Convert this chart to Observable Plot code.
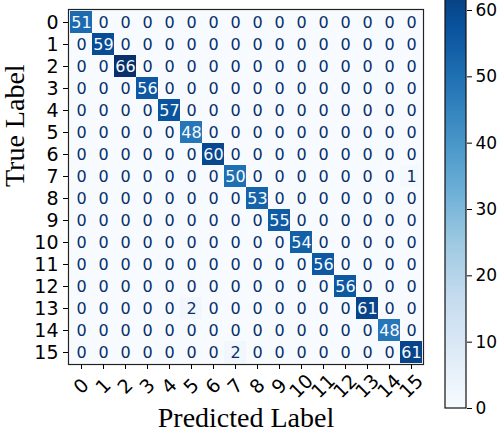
<!DOCTYPE html>
<html>
<head>
<meta charset="utf-8">
<script src="https://cdn.jsdelivr.net/npm/d3@7"></script>
<script src="https://cdn.jsdelivr.net/npm/@observablehq/plot@0.6"></script>
<style>
  html, body { margin: 0; padding: 0; background: #fff; }
  #wrap { position: relative; width: 499px; height: 432px; overflow: hidden; background: #fff; }
  #wrap svg { position: absolute; top: 0; }
</style>
</head>
<body>
<div id="wrap"></div>
<script>
// ---- data ----
const labels = ["0","1","2","3","4","5","6","7","8","9","10","11","12","13","14","15"];
const diagonal = [51, 59, 66, 56, 57, 48, 60, 50, 53, 55, 54, 56, 56, 61, 48, 61];
// off-diagonal non-zero entries: [true label, predicted label, count]
const offDiagonal = [[7, 15, 1], [13, 5, 2], [15, 7, 2]];
const colorbarTicks = [0, 10, 20, 30, 40, 50, 60];
const blues9 = ["#f7fbff","#deebf7","#c6dbef","#9ecae1","#6baed6","#4292c6","#2171b5","#08519c","#08306b"];

// ---- build table ----
const cells = [];
for (let r = 0; r < labels.length; r++) {
  for (let c = 0; c < labels.length; c++) {
    let v = r === c ? diagonal[r] : 0;
    for (const [tr, pc, n] of offDiagonal) if (tr === r && pc === c) v = n;
    cells.push({trueL: labels[r], pred: labels[c], v});
  }
}
const vmin = d3.min(cells, d => d.v), vmax = d3.max(cells, d => d.v);
const cmap = d3.scaleLinear()
  .domain(blues9.map((_, i) => vmin + (vmax - vmin) * i / (blues9.length - 1)))
  .range(blues9).interpolate(d3.interpolateRgb).clamp(true);
const thresh = (vmin + vmax) / 2;

const serif = "'Liberation Serif', 'Times New Roman', serif";

const heat = Plot.plot({
  width: 430, height: 432,
  marginLeft: 68, marginRight: 7, marginTop: 9, marginBottom: 68,
  style: {fontFamily: "'DejaVu Sans', sans-serif", background: "transparent", color: "black"},
  x: {type: "band", domain: labels, padding: 0, axis: null},
  y: {type: "band", domain: labels, padding: 0, axis: null},
  marks: [
    Plot.cell(cells, {x: "pred", y: "trueL", fill: d => cmap(d.v), inset: 0, shapeRendering: "crispEdges"}),
    Plot.text(cells, {x: "pred", y: "trueL", text: d => String(d.v),
      fill: d => d.v < thresh ? blues9[8] : blues9[0], fontSize: 16}),
    Plot.frame({stroke: "#222", strokeWidth: 1.2}),
    Plot.axisY({tickSize: 5, tickPadding: 5, fontSize: 19, label: null}),
    Plot.axisX({tickSize: 5, tickPadding: 17, tickRotate: -45, textAnchor: "middle",
      lineAnchor: "middle", fontSize: 19, label: null}),
    Plot.text(["Predicted Label"], {text: d => d, frameAnchor: "bottom", dy: 62,
      fontSize: 28, fontFamily: serif, fill: "black"}),
    Plot.text(["True Label"], {text: d => d, frameAnchor: "left", dx: -53, rotate: -90,
      fontSize: 28, fontFamily: serif, fill: "black"})
  ]
});
heat.style.left = "0px";

const steps = d3.range(vmin, vmax, 0.25);
const cbar = Plot.plot({
  width: 69, height: 432,
  marginLeft: 15, marginRight: 33, marginTop: 0, marginBottom: 0,
  style: {fontFamily: "'DejaVu Sans', sans-serif", background: "transparent", color: "black", overflow: "hidden"},
  x: {axis: null},
  y: {domain: [vmin, vmax], range: [408, 408 - (vmax - vmin) * (398 / 60)], axis: null},
  marks: [
    Plot.rect(steps, {y1: d => d, y2: d => Math.min(vmax, d + 0.35), fill: d => cmap(d + 0.125), shapeRendering: "crispEdges"}),
    Plot.rect([vmax], {y1: () => vmin, y2: d => d, fill: "none", stroke: "#111", strokeWidth: 1.2}),
    Plot.axisY({anchor: "right", ticks: colorbarTicks, tickSize: 5, tickPadding: 4, fontSize: 17, label: null})
  ]
});
cbar.style.left = "430px";

const wrap = document.getElementById("wrap");
wrap.appendChild(heat);
wrap.appendChild(cbar);
</script>
</body>
</html>
